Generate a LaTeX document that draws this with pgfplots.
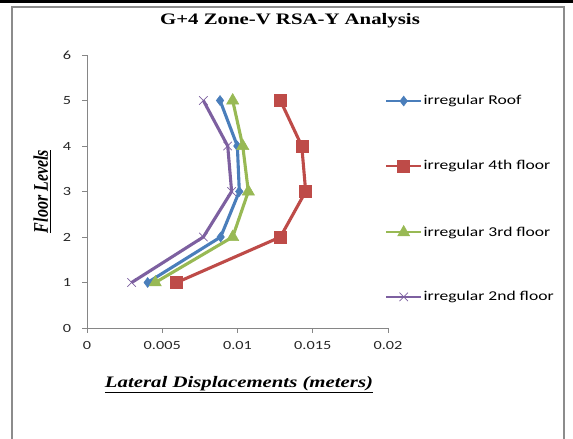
\documentclass[border=0pt]{standalone}
\usepackage{fontspec}
\setmainfont{Liberation Serif}
\newfontfamily\calibri{Carlito}
\usepackage{graphicx}
\usepackage{pgfplots}
\pgfplotsset{compat=1.18}
\definecolor{xlblue}{HTML}{4A7EBB}
\definecolor{xlred}{HTML}{BE4B48}
\definecolor{xlgreen}{HTML}{98B954}
\definecolor{xlpurple}{HTML}{7D60A0}
\definecolor{axgray}{HTML}{868686}
\definecolor{framegray}{HTML}{8C8C8C}
% the reference is stretched sideways
\newcommand\sx[1]{\scalebox{1.3}[1]{#1}}
\begin{document}
\begin{tikzpicture}
\useasboundingbox (0pt,0pt) rectangle (573pt,439pt);
% outer frame
\fill[black] (0pt,435.5pt) rectangle (573pt,439pt);
\draw[framegray,line width=1.2pt] (12pt,-5pt) -- (12pt,432pt) -- (564pt,432pt) -- (564pt,-5pt);
\node[font=\bfseries\fontsize{16}{19}\selectfont] at (290pt,418pt) {\sx{G+4 Zone-V RSA-Y Analysis}};
\begin{axis}[
  at={(87pt,111pt)}, anchor=south west,
  scale only axis, width=301pt, height=273pt,
  xmin=0, xmax=0.02, ymin=0, ymax=6,
  axis x line*=bottom, axis y line*=left,
  axis line style={axgray, line width=0.8pt},
  xtick={0,0.005,0.01,0.015,0.02},
  xticklabels={\sx{0},\sx{0.005},\sx{0.01},\sx{0.015},\sx{0.02}},
  scaled x ticks=false,
  ytick={0,1,2,3,4,5,6},
  yticklabels={\sx{0},\sx{1},\sx{2},\sx{3},\sx{4},\sx{5},\sx{6}},
  tick align=outside, major tick length=5pt,
  tick style={axgray, line width=0.8pt},
  /pgf/number format/assume math mode=true,
  ticklabel style={font=\calibri\fontsize{12.5}{15}\selectfont, text=black!85},
  xticklabel style={anchor=center, yshift=-12pt},
  yticklabel style={anchor=center, xshift=-15pt},
  xlabel={\sx{\underline{\textbf{\textit{Lateral Displacements (meters)}}}}},
  xlabel style={font=\fontsize{16}{19}\selectfont, at={(axis description cs:0.505,0)}, anchor=center, yshift=-57pt},
  ylabel={\scalebox{1}[1.3]{\underline{\textbf{\textit{Floor Levels}}}}},
  ylabel style={font=\fontsize{16}{19}\selectfont, at={(axis description cs:0,0.5)}, anchor=center, yshift=45pt},
  clip=false,
  legend cell align=left,
  legend style={at={(axis description cs:0.99,0.852)}, anchor=north west,
    draw=none, fill=none, inner sep=0pt, row sep=53.5pt,
    font=\calibri\fontsize{13.5}{16}\selectfont,
    nodes={inner xsep=1.5pt, inner ysep=0pt}},
  legend image code/.code={\draw[mark repeat=2,mark phase=2,line width=2pt] plot coordinates {(0pt,0pt) (17.5pt,0pt) (35pt,0pt)};},
]
\addplot[xlblue, line width=3.1pt, mark=diamond*, mark size=5pt, mark options={solid, line width=0.5pt}]
  coordinates {(0.00403,1) (0.00888,2) (0.01012,3) (0.00999,4) (0.00884,5)};
\addlegendentry{\sx{irregular Roof}}
\addplot[xlred, line width=3.1pt, mark=square*, mark size=6pt, mark options={solid, line width=0.5pt}]
  coordinates {(0.00596,1) (0.01285,2) (0.01453,3) (0.01427,4) (0.01285,5)};
\addlegendentry{\sx{irregular 4th floor}}
\addplot[xlgreen, line width=3.1pt, mark=triangle*, mark size=7pt, mark options={solid, line width=0.5pt}]
  coordinates {(0.00454,1) (0.00968,2) (0.01072,3) (0.01035,4) (0.00968,5)};
\addlegendentry{\sx{irregular 3rd floor}}
\addplot[xlpurple, line width=3.1pt, mark=x, mark size=6pt, mark options={solid, line width=0.7pt}]
  coordinates {(0.00297,1) (0.00773,2) (0.00961,3) (0.00935,4) (0.00773,5)};
\addlegendentry{\sx{irregular 2nd floor}}
\end{axis}
\end{tikzpicture}
\end{document}
